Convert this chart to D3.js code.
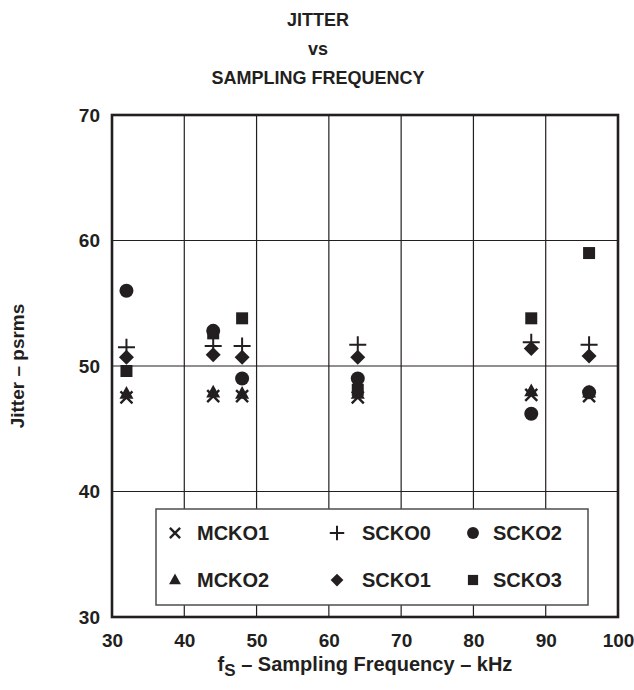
<!DOCTYPE html>
<html><head><meta charset="utf-8">
<script src="https://cdn.jsdelivr.net/npm/d3@7"></script>
<style>html,body{margin:0;padding:0;background:#fff;}svg{display:block;}</style>
</head><body>
<svg id="c" width="634" height="690"></svg>
<script>
const frequencies = [32, 44, 48, 64, 88, 96];
const seriesNames = ["MCKO1", "MCKO2", "SCKO3", "SCKO0", "SCKO1", "SCKO2"];
const MCKO1 = [47.5, 47.6, 47.6, 47.5, 47.7, 47.6];
const MCKO2 = [47.8, 47.9, 47.8, 47.8, 48.0, 47.9];
const SCKO0 = [51.5, 51.6, 51.6, 51.7, 51.9, 51.7];
const SCKO1 = [50.7, 50.9, 50.7, 50.7, 51.4, 50.8];
const SCKO2 = [56.0, 52.8, 49.0, 49.0, 46.2, 47.9];
const SCKO3 = [49.6, 52.6, 53.8, 48.1, 53.8, 59.0];
const xTicks = [30, 40, 50, 60, 70, 80, 90, 100];
const yTicks = [30, 40, 50, 60, 70];
const legendRows = [["MCKO1", "SCKO0", "SCKO2"], ["MCKO2", "SCKO1", "SCKO3"]];

const seriesData = {MCKO1, MCKO2, SCKO0, SCKO1, SCKO2, SCKO3};
const shapeOf = {MCKO1: "times", MCKO2: "triangle", SCKO0: "plus", SCKO1: "diamond", SCKO2: "circle", SCKO3: "square"};

const ink = "#231f20";
const font = "'Liberation Sans', Arial, Helvetica, sans-serif";
const svg = d3.select("#c");
const L = 112, R = 618, T = 115, B = 617;
const x = d3.scaleLinear().domain([30, 100]).range([L, R]);
const y = d3.scaleLinear().domain([30, 70]).range([B, T]);

// custom symbol types (size = nominal width in px)
const sym = {
  circle: {draw(c, s){ const r = s/2; c.moveTo(r,0); c.arc(0,0,r,0,2*Math.PI); c.closePath(); }},
  square: {draw(c, s){ const h = s/2; c.rect(-h,-h,s,s); }},
  diamond: {draw(c, s){ const h = s/2; c.moveTo(0,-h); c.lineTo(h,0); c.lineTo(0,h); c.lineTo(-h,0); c.closePath(); }},
  triangle: {draw(c, s){ const h = s/2; const ht = s*0.9; c.moveTo(0,-ht*0.6); c.lineTo(h,ht*0.4); c.lineTo(-h,ht*0.4); c.closePath(); }},
  plus: {draw(c, s){ const h = s/2; c.moveTo(-h,0); c.lineTo(h,0); c.moveTo(0,-h); c.lineTo(0,h); }},
  times: {draw(c, s){ const h = s/2; c.moveTo(-h,-h); c.lineTo(h,h); c.moveTo(h,-h); c.lineTo(-h,h); }}
};
const sizes = {circle: 14, square: 12, diamond: 15, triangle: 14, plus: 17, times: 12};
const stroked = {plus: true, times: true};
function drawSymbol(g, shape, cx, cy, scale) {
  const p = d3.symbol().type(sym[shape]).size(sizes[shape] * (scale || 1))();
  const el = g.append("path").attr("d", p).attr("transform", `translate(${cx},${cy})`);
  if (stroked[shape]) el.attr("fill", "none").attr("stroke", ink).attr("stroke-width", shape === "times" ? 2.4 : 2);
  else el.attr("fill", ink);
  return el;
}

// title
const title = svg.append("g").attr("font-family", font).attr("font-weight", "bold").attr("font-size", 18).attr("fill", ink).attr("text-anchor", "middle");
[["JITTER", 26], ["vs", 55], ["SAMPLING FREQUENCY", 84]].forEach(([t, yy]) => title.append("text").attr("x", 318).attr("y", yy).text(t));

// grid
const grid = svg.append("g").attr("stroke", ink).attr("stroke-width", 1.2);
xTicks.slice(1, -1).forEach(v => grid.append("line").attr("x1", x(v)).attr("x2", x(v)).attr("y1", T).attr("y2", B));
yTicks.slice(1, -1).forEach(v => grid.append("line").attr("y1", y(v)).attr("y2", y(v)).attr("x1", L).attr("x2", R));

// axes labels via d3 axes (no tick lines)
const xAxis = svg.append("g").attr("transform", `translate(0,${B})`)
  .call(d3.axisBottom(x).tickValues(xTicks).tickSize(0).tickPadding(17).tickFormat(d3.format("d")));
const yAxis = svg.append("g").attr("transform", `translate(${L},0)`)
  .call(d3.axisLeft(y).tickValues(yTicks).tickSize(0).tickPadding(12).tickFormat(d3.format("d")));
[xAxis, yAxis].forEach(a => {
  a.select(".domain").remove();
  a.selectAll("text").attr("font-family", font).attr("font-weight", "bold").attr("font-size", 19).attr("fill", ink);
});

// frame
svg.append("rect").attr("x", L).attr("y", T).attr("width", R - L).attr("height", B - T)
  .attr("fill", "none").attr("stroke", ink).attr("stroke-width", 2.6);

// markers
const marks = svg.append("g");
seriesNames.forEach(name => {
  seriesData[name].forEach((v, i) => drawSymbol(marks, shapeOf[name], x(frequencies[i]), y(v)));
});

// legend
const lg = svg.append("g");
lg.append("rect").attr("x", 156).attr("y", 509).attr("width", 432).attr("height", 96)
  .attr("fill", "#fff").attr("stroke", "#4d4d4f").attr("stroke-width", 1.5);
const colSym = [175, 337, 473], colTxt = [197, 362, 493], rowY = [533, 580];
legendRows.forEach((row, r) => row.forEach((name, ci) => {
  drawSymbol(lg, shapeOf[name], colSym[ci], rowY[r], 0.85);
  lg.append("text").attr("x", colTxt[ci]).attr("y", rowY[r]).attr("dy", "0.36em")
    .attr("font-family", font).attr("font-weight", "bold").attr("font-size", 20).attr("fill", ink).text(name);
}));

// axis titles
const xt = svg.append("text").attr("x", 365).attr("y", 671).attr("text-anchor", "middle")
  .attr("font-family", font).attr("font-weight", "bold").attr("font-size", 20).attr("fill", ink);
xt.append("tspan").text("f");
xt.append("tspan").attr("dy", 5).attr("font-size", 17).text("S");
xt.append("tspan").attr("dy", -5).text(" – Sampling Frequency – kHz");

svg.append("text").attr("transform", `translate(24,366) rotate(-90)`).attr("text-anchor", "middle")
  .attr("font-family", font).attr("font-weight", "bold").attr("font-size", 19).attr("fill", ink).text("Jitter – psrms");
</script>
</body></html>
